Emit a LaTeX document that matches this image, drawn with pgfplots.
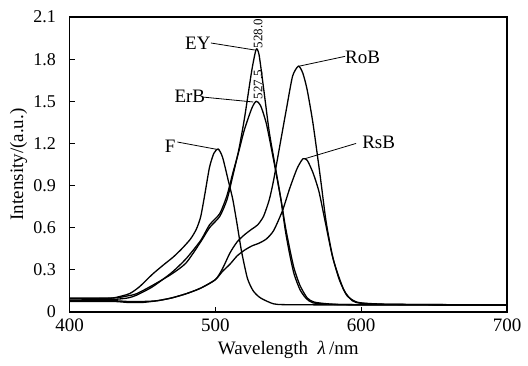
\documentclass[border=0pt]{standalone}
\usepackage{pgfplots}
\pgfplotsset{compat=1.18}
\usepackage{fontspec}
\setmainfont{Liberation Serif}
\begin{document}
\begin{tikzpicture}
\useasboundingbox (0,0) rectangle (528pt,365pt);
\begin{axis}[
  at={(69.5pt,53pt)}, anchor=south west,
  scale only axis, width=437.5pt, height=295pt,
  xmin=400, xmax=700, ymin=0, ymax=2.1,
  xtick={400,500,600,700}, ytick={0,0.3,0.6,0.9,1.2,1.5,1.8,2.1},
  yticklabels={0,0.3,0.6,0.9,1.2,1.5,1.8,2.1},
  xticklabels={400,500,600,700},
  tick pos=left, tick align=inside, major tick length=5pt,
  axis line style={line width=1.4pt},
  every tick/.style={line width=1.2pt,black},
  xticklabel style={font=\fontsize{19}{19}\selectfont, anchor=north, yshift=-3pt},
  yticklabel style={font=\fontsize{18}{18}\selectfont, anchor=east, xshift=-10pt},
  /pgf/number format/assume math mode=true,
  xlabel={Wavelength\ \ \textit{λ}\,/nm},
  ylabel={Intensity/(a.u.)},
  label style={font=\fontsize{19}{19}\selectfont},
  ylabel style={at={(axis description cs:0,0.5)}, anchor=center, yshift=51pt},
  xlabel style={at={(axis description cs:0.5,0)}, anchor=center, yshift=-38pt},
  cycle list={{black,mark=none,line width=1.3pt,smooth,tension=0.4}\\},
]
% F
\addplot coordinates {(400,0.095)(420,0.095)(430,0.10)(441,0.13)(448,0.18)(457,0.27)(465,0.34)(471,0.39)(477,0.45)(483,0.52)(487,0.59)(490,0.68)(493,0.85)(496,1.03)(499,1.13)(502,1.16)(505,1.10)(509,0.93)(512,0.80)(515,0.62)(518,0.43)(522,0.24)(526,0.15)(531,0.10)(540,0.058)(550,0.052)(600,0.05)(700,0.05)};
% EY
\addplot coordinates {(400,0.10)(430,0.10)(440,0.115)(446,0.13)(457,0.19)(470,0.27)(480,0.35)(490,0.50)(496,0.60)(503,0.68)(508,0.80)(512,0.97)(516,1.15)(520,1.38)(525,1.72)(528,1.87)(530,1.83)(533,1.60)(537,1.28)(541,1.04)(545,0.80)(548,0.58)(551,0.41)(554,0.27)(558,0.16)(562,0.10)(567,0.065)(580,0.055)(600,0.052)(700,0.05)};
% ErB
\addplot coordinates {(400,0.085)(430,0.09)(440,0.10)(446,0.12)(457,0.18)(470,0.28)(480,0.38)(490,0.51)(496,0.62)(503,0.70)(508,0.83)(512,0.99)(516,1.14)(520,1.30)(525,1.45)(528,1.50)(531,1.47)(535,1.34)(540,1.08)(545,0.80)(548,0.61)(551,0.45)(554,0.31)(558,0.19)(563,0.10)(568,0.07)(580,0.056)(600,0.052)(700,0.05)};
% RoB
\addplot coordinates {(400,0.075)(430,0.075)(440,0.068)(450,0.068)(460,0.08)(470,0.10)(480,0.13)(490,0.17)(500,0.23)(505,0.31)(510,0.42)(515,0.50)(520,0.55)(525,0.59)(529,0.62)(533,0.68)(537,0.80)(540,0.94)(544.5,1.20)(549,1.46)(553,1.68)(557,1.75)(560,1.70)(563,1.58)(567,1.34)(572,0.96)(576,0.64)(581,0.37)(588,0.16)(594,0.08)(600,0.062)(620,0.055)(700,0.05)};
% RsB
\addplot coordinates {(400,0.08)(430,0.08)(440,0.075)(450,0.075)(460,0.08)(470,0.10)(480,0.13)(490,0.17)(500,0.23)(505,0.29)(510,0.34)(515,0.40)(520,0.44)(525,0.47)(530,0.49)(535,0.52)(540,0.58)(546,0.72)(551,0.88)(556,1.02)(560,1.09)(563,1.08)(567,0.99)(571,0.86)(575,0.66)(580,0.41)(585,0.23)(590,0.12)(595,0.08)(600,0.065)(620,0.055)(700,0.05)};
% annotations
\begin{scope}[font=\fontsize{19}{19}\selectfont]
\node at (axis cs:488,1.915) {EY};
\draw[line width=0.8pt] (axis cs:497,1.915) -- (axis cs:527,1.865);
\node[rotate=90,font=\fontsize{13}{13}\selectfont] at (axis cs:529.3,1.98) {528.0};
\node at (axis cs:482.5,1.537) {ErB};
\draw[line width=0.8pt] (axis cs:491.5,1.53) -- (axis cs:526,1.495);
\node[rotate=90,font=\fontsize{13}{13}\selectfont] at (axis cs:529.3,1.62) {527.5};
\node at (axis cs:601,1.815) {RoB};
\draw[line width=0.8pt] (axis cs:589,1.82) -- (axis cs:557.5,1.75);
\node at (axis cs:469,1.18) {F};
\draw[line width=0.8pt] (axis cs:474,1.21) -- (axis cs:502.5,1.155);
\node at (axis cs:612,1.21) {RsB};
\draw[line width=0.8pt] (axis cs:596.5,1.20) -- (axis cs:561,1.09);
\end{scope}
\end{axis}
\end{tikzpicture}
\end{document}
